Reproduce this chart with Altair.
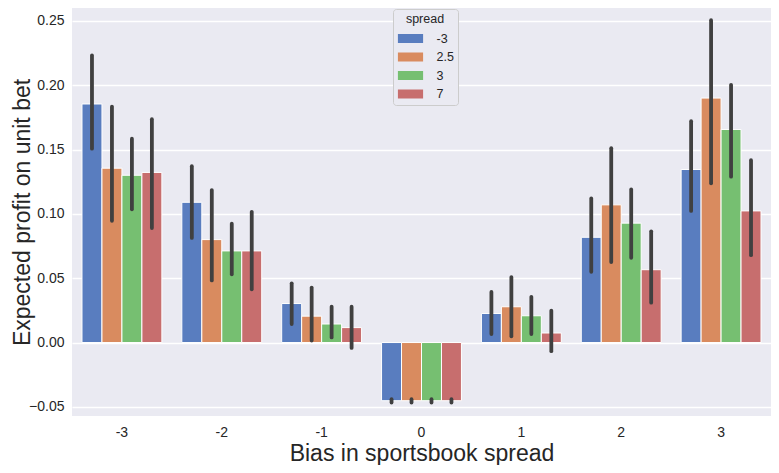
import altair as alt
import pandas as pd

biases = ["-3", "-2", "-1", "0", "1", "2", "3"]
spreads = ["-3", "2.5", "3", "7"]

mean_m3 = [0.1854, 0.1090, 0.0303, -0.0452, 0.0226, 0.0818, 0.1345]
mean_25 = [0.1355, 0.0800, 0.0205, -0.0452, 0.0278, 0.1070, 0.1900]
mean_3 = [0.1300, 0.0712, 0.0144, -0.0452, 0.0208, 0.0928, 0.1656]
mean_7 = [0.1322, 0.0712, 0.0116, -0.0452, 0.0074, 0.0566, 0.1023]

lo_m3 = [0.1507, 0.0813, 0.0144, -0.0466, 0.0066, 0.0550, 0.1023]
lo_25 = [0.0946, 0.0483, 0.0015, -0.0466, 0.0049, 0.0625, 0.1237]
lo_3 = [0.1036, 0.0530, 0.0040, -0.0466, 0.0066, 0.0658, 0.1289]
lo_7 = [0.0890, 0.0414, -0.0042, -0.0466, -0.0067, 0.0310, 0.0679]

hi_m3 = [0.2232, 0.1370, 0.0460, -0.0440, 0.0393, 0.1120, 0.1720]
hi_25 = [0.1834, 0.1185, 0.0427, -0.0440, 0.0509, 0.1510, 0.2505]
hi_3 = [0.1584, 0.0923, 0.0278, -0.0440, 0.0355, 0.1190, 0.2003]
hi_7 = [0.1736, 0.1016, 0.0278, -0.0440, 0.0247, 0.0864, 0.1417]

colors = ["#597DBF", "#D98B5F", "#76BF71", "#C76E6E"]

means = [mean_m3, mean_25, mean_3, mean_7]
los = [lo_m3, lo_25, lo_3, lo_7]
his = [hi_m3, hi_25, hi_3, hi_7]

rows = []
for s, m, l, h in zip(spreads, means, los, his):
    for b, mv, lv, hv in zip(biases, m, l, h):
        rows.append({"bias": b, "spread": s, "mean": mv, "lo": lv, "hi": hv})
df = pd.DataFrame(rows)

text_color = "#262626"

base = alt.Chart(df).encode(
    x=alt.X(
        "bias:N",
        sort=biases,
        scale=alt.Scale(paddingInner=0.2, paddingOuter=0.1),
        axis=alt.Axis(
            title="Bias in sportsbook spread",
            labelAngle=0,
            grid=False,
            domain=False,
            ticks=False,
            labelFontSize=14,
            labelPadding=9,
            titleFontSize=23,
            titlePadding=3,
            titleFontWeight="normal",
            labelColor=text_color,
            titleColor=text_color,
        ),
    ),
    xOffset=alt.XOffset("spread:N", sort=spreads, scale=alt.Scale(paddingInner=0, paddingOuter=0)),
)

bars = base.mark_bar(stroke="white", strokeWidth=1).encode(
    y=alt.Y(
        "mean:Q",
        scale=alt.Scale(domain=[-0.0571, 0.2600], nice=False, zero=False),
        axis=alt.Axis(
            title="Expected profit on unit bet",
            values=[-0.05, 0.0, 0.05, 0.10, 0.15, 0.20, 0.25],
            format=".2f",
            grid=True,
            gridColor="white",
            gridWidth=1.4,
            domain=False,
            ticks=False,
            labelFontSize=14,
            labelPadding=8,
            titleFontSize=23,
            titleX=-38,
            titleFontWeight="normal",
            labelColor=text_color,
            titleColor=text_color,
        ),
    ),
    y2=alt.datum(0),
    color=alt.Color(
        "spread:N",
        sort=spreads,
        scale=alt.Scale(domain=spreads, range=colors),
        legend=alt.Legend(
            title="spread",
            orient="none",
            legendX=321,
            legendY=1,
            fillColor="#EAEAF2",
            strokeColor="#CCCCCC",
            cornerRadius=3,
            padding=4,
            titleAnchor="middle",
            titleFontSize=12.5,
            titleFontWeight="normal",
            titleColor=text_color,
            titlePadding=4,
            labelFontSize=12.5,
            labelColor=text_color,
            labelOffset=17,
            symbolType="M-1.4,-0.5H1.4V0.5H-1.4Z",
            symbolSize=324,
            symbolOffset=4.5,
            symbolStrokeWidth=0,
            rowPadding=2.5,
        ),
    ),
)

rules = base.mark_rule(strokeWidth=3.8, color="#404040", strokeCap="round").encode(
    y="lo:Q",
    y2="hi:Q",
)

chart = (
    alt.layer(bars, rules)
    .properties(
        width=763,
        height=457,
        padding={"left": 3, "top": 0, "right": 0, "bottom": 0},
        background="white",
        autosize=alt.AutoSizeParams(type="fit", contains="padding"),
    )
    .configure(font="Liberation Sans")
    .configure_view(fill="#EAEAF2", stroke=None)
)

chart.save("out.html", embed_options={"renderer": "svg", "actions": False})
